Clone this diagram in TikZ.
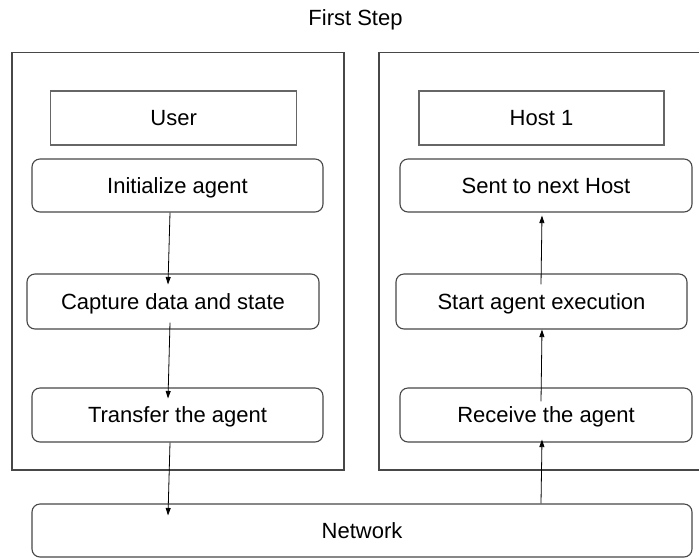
\documentclass[tikz,border=0pt]{standalone}
\usepackage{fontspec}
\setmainfont{Liberation Sans}
\usetikzlibrary{arrows.meta}
\begin{document}
\begin{tikzpicture}[x=1pt,y=-1pt,
  every node/.style={font=\fontsize{22}{26}\selectfont, inner sep=0pt,
    text height=15.75pt, text depth=0pt, align=center},
  panel/.style={draw=black!72, line width=1.1pt},
  titlebox/.style={draw=black!60, line width=1.1pt},
  stepbox/.style={draw=black!72, line width=1.1pt, rounded corners=8pt},
  flow/.style={draw=black, line width=0.8pt,
    -{Triangle[length=7.5pt,width=5pt]}}]
  \clip (0,0) rectangle (699,558);
  \fill[white] (0,0) rectangle (699,558);

  % heading
  \node[anchor=base] (title) at (355.5,25) {First Step};

  % two machines
  \node[panel, minimum width=332pt, minimum height=417.5pt] (userpanel) at (178,261.25) {};
  \node[panel, minimum width=332pt, minimum height=417.5pt] (hostpanel) at (545,261.25) {};

  % user side
  \node[titlebox, minimum width=246pt, minimum height=54pt] (user) at (173.7,118) {User};
  \node[stepbox, minimum width=291pt, minimum height=53pt] (init) at (177.5,185.5) {Initialize agent};
  \node[stepbox, minimum width=292pt, minimum height=55pt] (capture) at (173,301.5) {Capture data and state};
  \node[stepbox, minimum width=291pt, minimum height=54pt] (transfer) at (177.5,415) {Transfer the agent};

  % host side
  \node[titlebox, minimum width=245pt, minimum height=54pt] (host) at (541.5,118) {Host 1};
  \node[stepbox, minimum width=292pt, minimum height=53pt] (sent) at (546,185.5) {Sent to next Host};
  \node[stepbox, minimum width=291pt, minimum height=55pt] (start) at (541.5,301.5) {Start agent execution};
  \node[stepbox, minimum width=292pt, minimum height=54pt] (receive) at (546,415) {Receive the agent};

  % shared network
  \node[stepbox, minimum width=660pt, minimum height=53pt] (network) at (362,530.5) {Network};

  % outgoing path
  \draw[flow] ([xshift=-7.5pt]init.south) -- ([xshift=-5pt,yshift=-11pt]capture.north);
  \draw[flow] ([xshift=-3pt,yshift=7pt]capture.south) -- ([xshift=-9.5pt,yshift=-11pt]transfer.north);
  \draw[flow] ([xshift=-7.5pt]transfer.south) -- ([xshift=-194pt,yshift=-12pt]network.north);

  % incoming path
  \draw[flow] ([xshift=179pt]network.north) -- ([xshift=-4pt,yshift=3pt]receive.south);
  \draw[flow] ([xshift=-5pt,yshift=-14pt]receive.north) -- ([xshift=0.5pt]start.south);
  \draw[flow] ([xshift=-0.5pt,yshift=-11pt]start.north) -- ([xshift=-4pt,yshift=-3pt]sent.south);
\end{tikzpicture}
\end{document}
